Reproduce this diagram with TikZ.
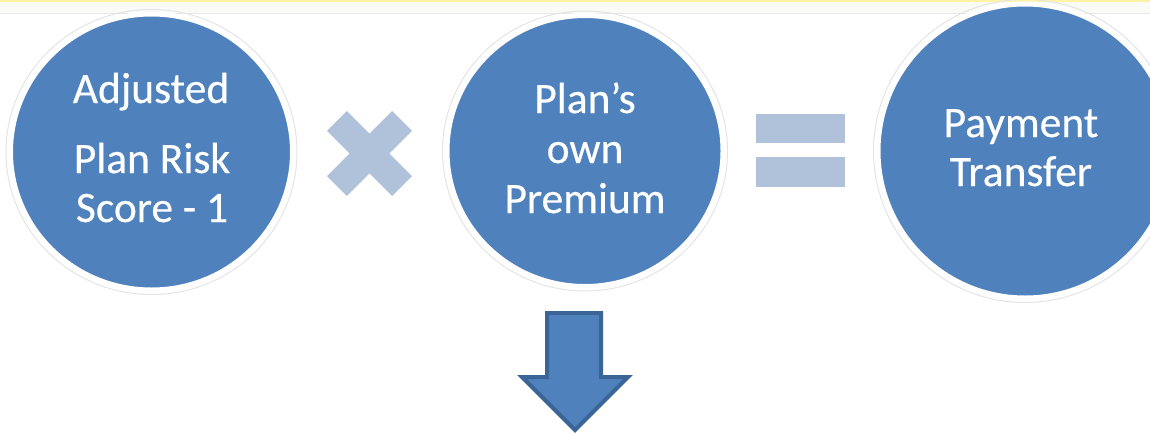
\documentclass[tikz,border=0pt]{standalone}
\usepackage{fontspec}
\setmainfont{Carlito}
\newfontfamily\bubfont{Carlito}[FakeBold=0.4]
\usetikzlibrary{shapes.geometric}
\definecolor{blueA}{HTML}{4F81BD}
\definecolor{blueB}{HTML}{3A6596}
\definecolor{paleB}{HTML}{B0C1DA}
\definecolor{ringG}{HTML}{E4E4E4}
\definecolor{topY}{HTML}{FFF3A6}
\definecolor{topB}{HTML}{F9FBF6}
\definecolor{topL}{HTML}{E8E8E8}
\tikzset{
  bubble/.style={ellipse, fill=blueA, draw=white, line width=5pt, inner sep=0pt},
  ring/.style={ellipse, draw=ringG, line width=1pt, inner sep=0pt},
  txt/.style={anchor=base, text=white, inner sep=0pt, font=\bubfont\fontsize{43.5}{50}\selectfont},
  sign/.style={fill=paleB},
}
\begin{document}
\begin{tikzpicture}[x=1pt, y=-1pt]
\useasboundingbox (0,0) rectangle (1150,434);
% top band
\fill[topB] (0,0) rectangle (1150,13.5);
\fill[topY] (0,0) rectangle (1150,1.8);
\fill[topL] (0,12.8) rectangle (1150,14.3);
% circles
\node[ring, minimum width=291pt, minimum height=285pt] (r1) at (151.5,152) {};
\node[bubble, minimum width=282pt, minimum height=276pt] (c1) at (151.5,152) {};
\node[ring, minimum width=285pt, minimum height=280pt] (r2) at (585,151) {};
\node[bubble, minimum width=276pt, minimum height=271pt] (c2) at (585,151) {};
\node[ring, minimum width=303pt, minimum height=303pt] (r3) at (1025,151) {};
\node[bubble, minimum width=294pt, minimum height=294pt] (c3) at (1025,151) {};
% texts
\node[txt] (t1a) at (151,103) {Adjusted};
\node[txt] (t1b) at (152,173) {Plan Risk};
\node[txt] (t1c) at (152,222) {Score - 1};
\node[txt] (t2a) at (585,113) {Plan’s};
\node[txt] (t2b) at (585,163) {own};
\node[txt] (t2c) at (585,213) {Premium};
\node[txt] (t3a) at (1021,137) {Payment};
\node[txt] (t3b) at (1021,186) {Transfer};
% multiply sign
\begin{scope}[shift={(369.5,153.5)}]
  \fill[sign, rotate=45] (-46,-14) rectangle (46,14);
  \fill[sign, rotate=-45] (-46,-14) rectangle (46,14);
\end{scope}
% equals sign
\fill[sign] (756,114) rectangle (845,143);
\fill[sign] (756,157) rectangle (845,187);
% down arrow
\draw[fill=blueA, draw=blueB, line width=4pt, line join=miter]
  (547,313) -- (601,313) -- (601,377) -- (628,377) -- (575,430)
  -- (522,377) -- (547,377) -- cycle;
\end{tikzpicture}
\end{document}
